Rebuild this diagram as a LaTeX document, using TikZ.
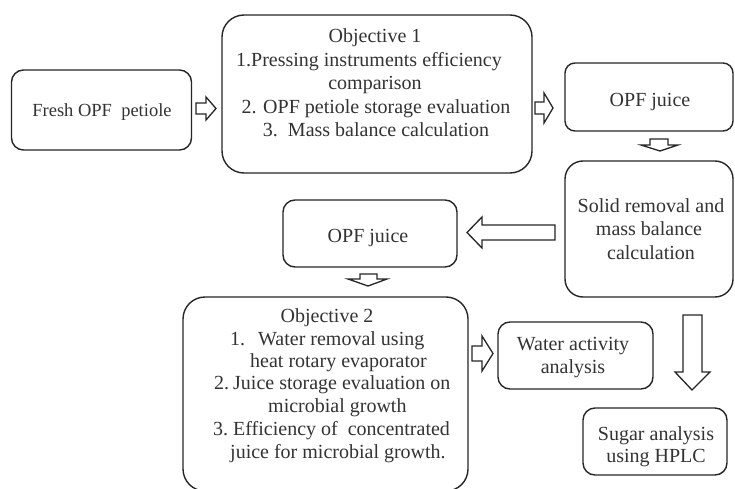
\documentclass[tikz,border=0pt]{standalone}
\usepackage{fontspec}
\setmainfont{Liberation Serif}
\begin{document}
\begin{tikzpicture}[x=1pt,y=-1pt,
  box/.style={draw=black!85, line width=1.4pt, rounded corners=#1, inner sep=0pt},
  box/.default=12pt,
  txt/.style={font=\rmfamily\fontsize{20}{23}\selectfont, text=black!80, inner sep=0pt, anchor=base},
  ltxt/.style={txt, anchor=base west},
  barrow/.style={draw=black!85, line width=1.3pt, line join=miter, fill=white}]
\useasboundingbox (0,0) rectangle (735,489);
\clip (0,0) rectangle (735,489);
\fill[white] (0,0) rectangle (735,489);

% boxes
\node[box=12pt, minimum width=180pt, minimum height=80pt] (A) at (101.5,110) {};
\node[box=22pt, minimum width=310pt, minimum height=158pt] (B) at (377,94) {};
\node[box=10pt, minimum width=168pt, minimum height=68pt] (C) at (649,97) {};
\node[box=18pt, minimum width=168pt, minimum height=136pt] (D) at (649,229) {};
\node[box=12pt, minimum width=174pt, minimum height=67pt] (E) at (370,233.5) {};
\node[box=22pt, minimum width=285pt, minimum height=194pt] (F) at (325.5,394) {};
\node[box=12pt, minimum width=155pt, minimum height=67pt] (G) at (575.5,355.5) {};
\node[box=12pt, minimum width=144pt, minimum height=67pt] (H) at (655,441.5) {};

% texts
\node[txt, font=\rmfamily\fontsize{18.5}{22}\selectfont] (A1) at (102,117) {Fresh OPF\ \ petiole};

\node[txt] (B1) at (375,43) {Objective 1};
\node[txt] (B2) at (369,66.5) {1.Pressing instruments efficiency};
\node[txt] (B3) at (375,90) {comparison};
\node[txt] (B4) at (376,113.5) {2. OPF petiole storage evaluation};
\node[txt] (B5) at (376,137) {3.\ \ Mass balance calculation};

\node[txt] (C1) at (650,107) {OPF juice};

\node[txt] (D1) at (651,212) {Solid removal and};
\node[txt] (D2) at (649,235) {mass balance};
\node[txt] (D3) at (651,259) {calculation};

\node[txt] (E1) at (368,242) {OPF juice};

\node[txt] (F1) at (327,322) {Objective 2};
\node[ltxt] (F2) at (230,345) {\makebox[28pt][l]{1.}Water removal using};
\node[ltxt] (F3) at (250,367) {heat rotary evaporator};
\node[ltxt] (F4) at (214,389) {\makebox[19pt][l]{2.}Juice storage evaluation on};
\node[ltxt] (F5) at (268,412) {microbial growth};
\node[ltxt] (F6) at (213,435) {\makebox[20pt][l]{3.}Efficiency of\ \ concentrated};
\node[ltxt] (F7) at (230,458) {juice for microbial growth.};

\node[txt] (G1) at (573,350) {Water activity};
\node[txt] (G2) at (573,373) {analysis};

\node[txt] (H1) at (656,440) {Sugar analysis};
\node[txt] (H2) at (656,462) {using HPLC};

% block arrows
\draw[barrow] (196,103) -- (206,103) -- (206,97) -- (216,108.5) -- (206,120) -- (206,114) -- (196,114) -- cycle;
\draw[barrow] (535,102) -- (544,102) -- (544,93) -- (553,108) -- (544,123) -- (544,114) -- (535,114) -- cycle;
\draw[barrow] (650,139) -- (668,139) -- (668,145) -- (678,145) -- (660,151) -- (641,145) -- (650,145) -- cycle;
\draw[barrow] (555,225) -- (482,225) -- (482,217) -- (467,232.5) -- (482,248) -- (482,240) -- (555,240) -- cycle;
\draw[barrow] (360,274) -- (377,274) -- (377,279) -- (387,279) -- (368,286) -- (348,279) -- (360,279) -- cycle;
\draw[barrow] (472,346) -- (482,346) -- (482,336) -- (493,353.5) -- (482,371) -- (482,361) -- (472,361) -- cycle;
\draw[barrow] (683,315) -- (702,315) -- (702,372) -- (710,372) -- (692,390) -- (675,372) -- (683,372) -- cycle;
\end{tikzpicture}
\end{document}
